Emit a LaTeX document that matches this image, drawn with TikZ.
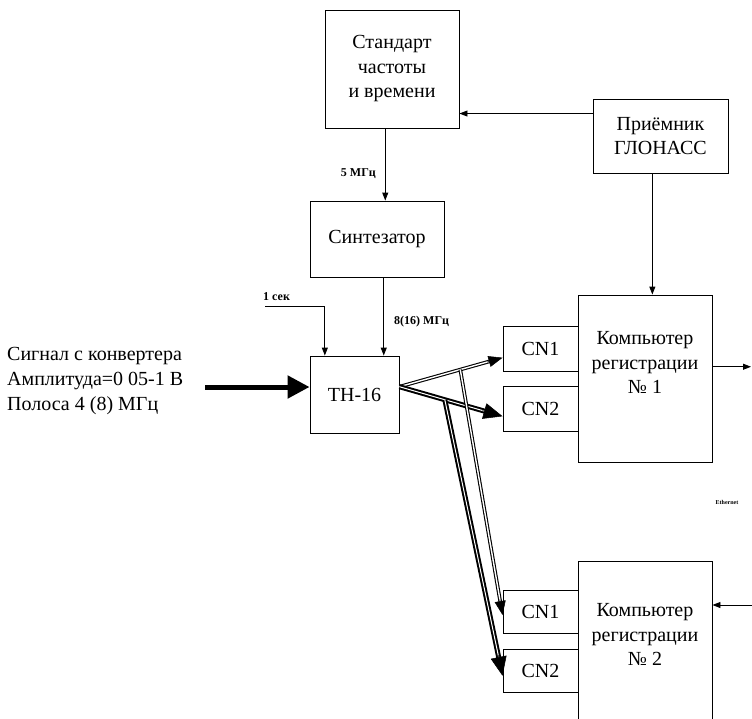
\documentclass[tikz,border=0pt]{standalone}
\usepackage{fontspec}
\setmainfont{Liberation Serif}
\usetikzlibrary{calc, positioning, arrows.meta}

\tikzset{
    blk/.style={draw, line width=0.9pt, align=center, inner sep=2pt},
    arw/.style={-{Triangle[length=8pt,width=6pt]}, line width=0.9pt},
    bigarw/.style={-{Triangle[length=22pt,width=22pt]}, line width=5pt},
    dbl/.style={double, line width=1.1pt, double distance=1.4pt, shorten >=10pt},
    dblthick/.style={double, line width=2pt, double distance=1pt, shorten >=14pt},
    tipsmall/.style={-{Triangle[length=14pt,width=11pt]}, line width=0.5pt},
    tipbig/.style={-{Triangle[length=19pt,width=16pt]}, line width=0.5pt},
    lbl/.style={font=\fontsize{12}{14}\selectfont\bfseries},
}

\begin{document}
\begin{tikzpicture}[x=1pt, y=-1pt, every node/.style={font=\fontsize{20}{24.5}\selectfont, inner sep=1pt}]

    % 0. рамка рисунка
    \clip (0,0) rectangle (752,718);

    % 1. основные блоки
    \node[blk, minimum width=134pt, minimum height=118pt] (std) at (392,69) {Стандарт\\частоты\\и времени};
    \node[blk, minimum width=135pt, minimum height=74pt] (rcv) at (660.5,136) {Приёмник\\ГЛОНАСС};
    \node[blk, minimum width=134pt, minimum height=76pt] (syn) at (377,239) {Синтезатор};
    \node[blk, minimum width=89pt, minimum height=77pt] (th) at (354.5,394.5) {TH-16};

    % 2. компьютеры регистрации (текст в верхней части блока)
    \node[blk, minimum width=134pt, minimum height=167pt,
          label={[align=center, anchor=north, yshift=-36pt]north:Компьютер\\регистрации\\№~1}] (pc1) at (645,378.5) {};
    \node[blk, minimum width=134pt, minimum height=190pt,
          label={[align=center, anchor=north, yshift=-42pt]north:Компьютер\\регистрации\\№~2}] (pc2) at (645,656) {};

    % 3. платы CN
    \foreach \n/\t/\y/\h in {cn11/CN1/348.5/45, cn12/CN2/408.5/45, cn21/CN1/611.5/43, cn22/CN2/670.5/43} {
        \node[blk, minimum width=75pt, minimum height=\h pt] (\n) at (540.5,\y) {\t};
    }

    % 4. входной сигнал
    \node[align=left, anchor=west] (sig) at (6,381) {Сигнал с конвертера\\Амплитуда=0 05-1 В\\Полоса 4 (8) МГц};
    \coordinate (in) at (205,387);
    \draw[bigarw] (in) -- (in -| th.west);

    % 5. опорные частоты и синхронизация
    \coordinate (g) at ($(rcv.north west)!0.2!(rcv.south west)$);
    \draw[arw] (g) -- (g -| std.east);
    \coordinate (gp) at ($(rcv.south west)!0.44!(rcv.south east)$);
    \draw[arw] (gp) -- (gp |- pc1.north);

    \coordinate (s5) at ($(std.south west)!0.45!(std.south east)$);
    \draw[arw] (s5) -- (s5 |- syn.north) node[lbl, pos=0.62, left=8pt] (f5) {5 МГц};
    \coordinate (s8) at ($(syn.south west)!0.55!(syn.south east)$);
    \draw[arw] (s8) -- (s8 |- th.north) node[lbl, pos=0.57, right=9pt] (f8) {8(16) МГц};

    \coordinate (sec) at (265,306);
    \draw[arw] (sec) -| ($(th.north west)!0.17!(th.north east)$);
    \node[lbl, anchor=south west] (seclbl) at ($(sec)+(-3,-4)$) {1 сек};

    % 6. выходы TH-16 на платы CN
    \coordinate (tho) at ($(th.north east)!0.4!(th.south east)$);
    \coordinate (c11) at ($(cn11.north west)!0.7!(cn11.south west)$);
    \coordinate (c12) at ($(cn12.north west)!0.67!(cn12.south west)$);
    \coordinate (c21) at ($(cn21.north west)!0.58!(cn21.south west)$);
    \coordinate (c22) at ($(cn22.north west)!0.62!(cn22.south west)$);
    \coordinate (b1) at ($(tho)!0.59!(c11)$);
    \coordinate (b2) at ($(tho)!0.44!(c12)$);
    \draw[dbl] (tho) -- (c11);
    \draw[tipsmall] ($(c11)!16pt!(tho)$) -- (c11);
    \draw[dblthick] (tho) -- (c12);
    \draw[tipbig] ($(c12)!21pt!(tho)$) -- (c12);
    \draw[dbl] (b1) -- (c21);
    \draw[tipsmall] ($(c21)!16pt!(b1)$) -- (c21);
    \draw[dblthick] (b2) -- (c22);
    \draw[tipbig] ($(c22)!21pt!(b2)$) -- (c22);

    % 7. Ethernet
    \coordinate (o1) at ($(pc1.north east)!0.43!(pc1.south east)$);
    \coordinate (lan1) at (751,367);
    \draw[arw] (o1) -- (o1 -| lan1);
    \node[font=\fontsize{6}{7}\selectfont\bfseries] (eth) at (727,502) {Ethernet};
    \coordinate (lan2) at (752,605);
    \draw[arw] (lan2) -- (lan2 -| pc2.east);

\end{tikzpicture}
\end{document}
